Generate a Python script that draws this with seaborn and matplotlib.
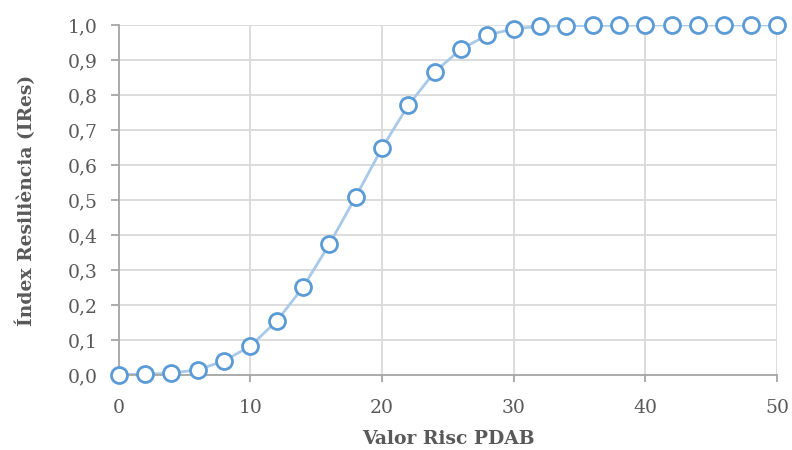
import matplotlib
matplotlib.use('Agg')
import matplotlib.pyplot as plt
import seaborn as sns
import pandas as pd
from matplotlib.ticker import FuncFormatter, MultipleLocator

# Data
risc = [0, 2, 4, 6, 8, 10, 12, 14, 16, 18, 20, 22, 24, 26, 28, 30,
        32, 34, 36, 38, 40, 42, 44, 46, 48, 50]
ires = [0.001, 0.002, 0.005, 0.015, 0.040, 0.083, 0.154, 0.251, 0.374, 0.509,
        0.649, 0.771, 0.866, 0.931, 0.971, 0.989, 0.996, 0.998, 0.999, 0.999,
        1.0, 1.0, 1.0, 1.0, 1.0, 1.0]

df = pd.DataFrame({'risc': risc, 'ires': ires})

sns.set_theme(style='white')
plt.rcParams['font.family'] = ['DejaVu Serif']

text_col = '#595959'
grid_col = '#d9d9d9'
axis_col = '#a6a6a6'

fig = plt.figure(figsize=(7.92, 4.5), dpi=100)
ax = fig.add_axes([0.150, 0.1667, 0.831, 0.7778])

sns.lineplot(data=df, x='risc', y='ires', ax=ax, color='#a9c9e8', linewidth=2, zorder=2)
ax.plot(df['risc'], df['ires'], linestyle='none', marker='o', markersize=11.5,
        markerfacecolor='white', markeredgecolor='#5b9bd5', markeredgewidth=2,
        zorder=3, clip_on=False)

ax.set_xlim(0, 50)
ax.set_ylim(0, 1)
ax.xaxis.set_major_locator(MultipleLocator(10))
ax.yaxis.set_major_locator(MultipleLocator(0.1))
ax.yaxis.set_major_formatter(FuncFormatter(lambda v, p: f'{v:.1f}'.replace('.', ',')))

ax.grid(True, color=grid_col, linewidth=1.3, zorder=0)
ax.set_axisbelow(True)
for s in ['top', 'right']:
    ax.spines[s].set_visible(False)
for s in ['left', 'bottom']:
    ax.spines[s].set_color(axis_col)
    ax.spines[s].set_linewidth(1.3)

ax.tick_params(axis='y', which='major', left=True, length=6, width=1.3, color=axis_col,
               labelsize=13.5, labelcolor=text_col, pad=9)
ax.tick_params(axis='x', which='major', bottom=True, length=5, width=1.3, color=axis_col,
               labelsize=13.5, labelcolor=text_col, pad=12)

ax.set_xlabel('Valor Risc PDAB', fontsize=13.5, fontweight='bold', color=text_col, labelpad=10)
ax.set_ylabel('Índex Resiliència (IRes)', fontsize=13.5, fontweight='bold', color=text_col, labelpad=23)

fig.savefig('out.png', dpi=100)
